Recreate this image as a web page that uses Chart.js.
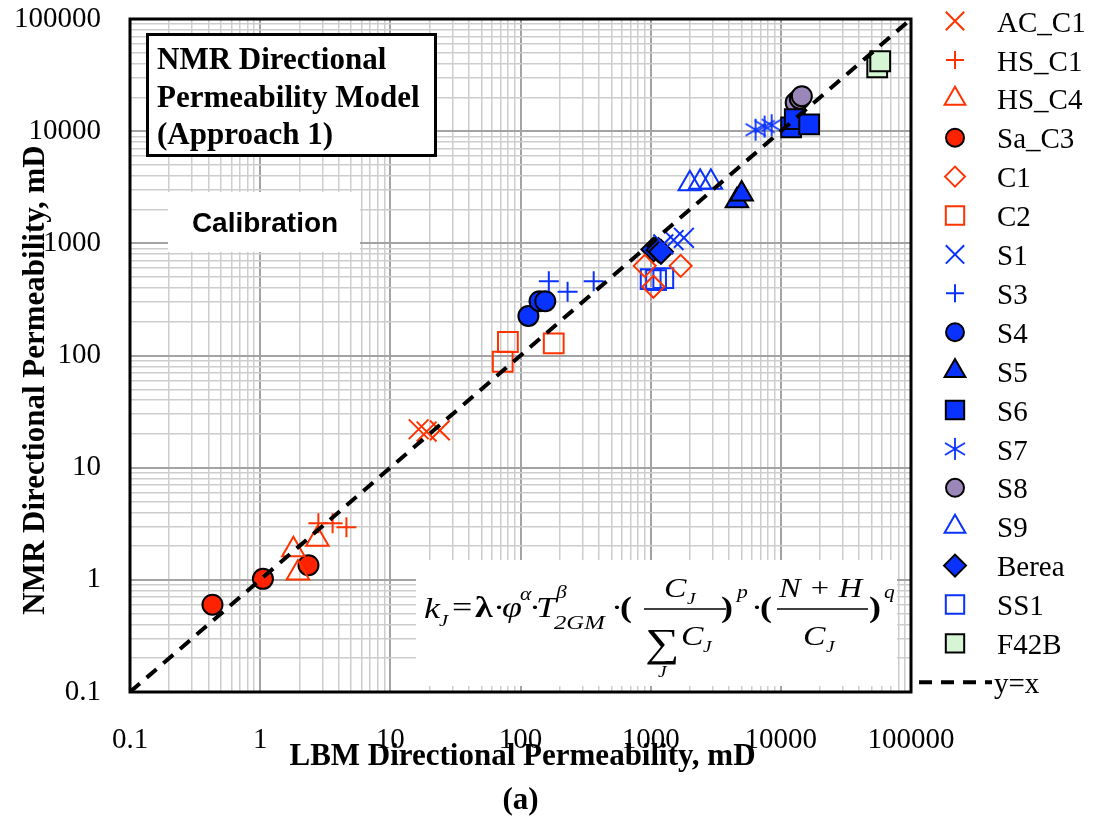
<!DOCTYPE html>
<html>
<head>
<meta charset="utf-8">
<script src="https://cdn.jsdelivr.net/npm/chart.js@4.4.1/dist/chart.umd.min.js"></script>
<style>
  html, body { margin: 0; padding: 0; background: #fff; }
</style>
</head>
<body>
<canvas id="chart" width="1096" height="819"></canvas>
<script>
// axis decades + labels
const decades = [0.1, 1, 10, 100, 1000, 10000, 100000];
const decadeLabels = ['0.1', '1', '10', '100', '1000', '10000', '100000'];

// LBM (x) vs NMR (y) directional permeability, mD
const acC1X = [16.5, 19, 24],        acC1Y = [22, 21, 21.5];
const hsC1X = [2.8, 3.6, 4.6],       hsC1Y = [3.2, 3.2, 2.95];
const hsC4X = [1.8, 1.95, 2.75],     hsC4Y = [1.85, 1.15, 2.3];
const saC3X = [0.43, 1.05, 2.35],    saC3Y = [0.6, 1.02, 1.35];
const c1X = [900, 1050, 1700],       c1Y = [630, 410, 630];
const c2X = [73, 80, 180],           c2Y = [88, 132, 128];
const s1X = [1250, 1500, 1800],      s1Y = [980, 1070, 1120];
const s3X = [165, 230, 365],         s3Y = [460, 370, 460];
const s4X = [115, 140, 155],         s4Y = [225, 305, 305];
const s5X = [4600, 5000],            s5Y = [2400, 2750];
const s6X = [12000, 12800, 16500],   s6Y = [10800, 12800, 11500];
const s7X = [6400, 7500, 8500],      s7Y = [10300, 11000, 11300];
const s8X = [13000, 14000, 14500],   s8Y = [18000, 19500, 20500];
const s9X = [2000, 2400, 2900],      s9Y = [3400, 3500, 3500];
const bereaX = [1050, 1150, 1200],   bereaY = [880, 870, 840];
const ss1X = [1000, 1100, 1250],     ss1Y = [480, 470, 490];
const f42bX = [55000, 58000],        f42bY = [37000, 42000];
const identityX = [0.1, 100000],     identityY = [0.1, 100000];

const RED = '#ff3300';
const BLUE = '#0a32ff';
const NONE = 'rgba(0,0,0,0)';

// 6-spoke asterisk for S7
const asterisk = document.createElement('canvas');
asterisk.width = 26; asterisk.height = 26;
(function () {
    const g = asterisk.getContext('2d');
    g.strokeStyle = BLUE; g.lineWidth = 1.8;
    g.beginPath();
    g.moveTo(13, 2); g.lineTo(13, 24);
    g.moveTo(3, 7); g.lineTo(23, 19);
    g.moveTo(3, 19); g.lineTo(23, 7);
    g.stroke();
})();

const pts = (xs, ys) => xs.map((x, i) => ({ x, y: ys[i] }));

function series(label, xs, ys, style, radius, fill, stroke) {
    return {
        label, data: pts(xs, ys),
        pointStyle: style, pointRadius: radius, pointHoverRadius: radius,
        pointBackgroundColor: fill, pointBorderColor: stroke, pointBorderWidth: 2,
        showLine: false,
    };
}

const datasets = [
    {
        label: 'y=x', data: pts(identityX, identityY), showLine: true,
        borderColor: '#000', borderWidth: 4, borderDash: [13, 9], pointRadius: 0, pointHoverRadius: 0,
    },
    series('AC_C1', acC1X, acC1Y, 'crossRot', 14, NONE, RED),
    series('HS_C1', hsC1X, hsC1Y, 'cross', 10, NONE, RED),
    series('HS_C4', hsC4X, hsC4Y, 'triangle', 13, NONE, RED),
    series('Sa_C3', saC3X, saC3Y, 'circle', 10, '#ff2200', '#000'),
    series('C1', c1X, c1Y, 'rectRot', 11, NONE, RED),
    series('C2', c2X, c2Y, 'rect', 14, NONE, RED),
    series('S1', s1X, s1Y, 'crossRot', 14, NONE, BLUE),
    series('S3', s3X, s3Y, 'cross', 10, NONE, BLUE),
    series('S4', s4X, s4Y, 'circle', 10, BLUE, '#000'),
    series('S5', s5X, s5Y, 'triangle', 13, BLUE, '#000'),
    series('S6', s6X, s6Y, 'rect', 14, BLUE, '#000'),
    series('S7', s7X, s7Y, asterisk, 12, NONE, BLUE),
    series('S8', s8X, s8Y, 'circle', 10, '#9a86b8', '#000'),
    series('S9', s9X, s9Y, 'triangle', 13, NONE, BLUE),
    series('Berea', bereaX, bereaY, 'rectRot', 12, BLUE, '#000'),
    series('SS1', ss1X, ss1Y, 'rect', 14, NONE, BLUE),
    series('F42B', f42bX, f42bY, 'rect', 14, '#d5f5d5', '#000'),
];

function logTicks(scale) {
    const out = [];
    for (let i = 0; i < decades.length - 1; i++) {
        for (let m = 1; m <= 9; m++) out.push({ value: decades[i] * m, major: m === 1 });
    }
    out.push({ value: decades[decades.length - 1], major: true });
    scale.ticks = out;
}
function tickLabel(v) {
    const i = decades.findIndex(d => Math.abs(v / d - 1) < 1e-6);
    return i < 0 ? '' : decadeLabels[i];
}
// keep the plot box where it is: no extra room for edge labels
function noEdgePadding(s) {
    s.paddingTop = 0; s.paddingBottom = 0; s.paddingLeft = 0; s.paddingRight = 0;
}
const gridColor = c => (c.tick && c.tick.major ? '#a3a3a3' : '#cdcdcd');
const SERIF = '"Liberation Serif", "Times New Roman", serif';

// boxes, equation, titles, legend
const decorations = {
    id: 'decorations',
    beforeDatasetsDraw(chart) {
        const ctx = chart.ctx;
        const { left, top, bottom } = chart.chartArea;
        ctx.save();
        ctx.fillStyle = '#fff';
        ctx.fillRect(left + 286, bottom - 132, 481, 126);   // equation panel
        ctx.fillRect(left + 38, top + 173, 192, 60);        // calibration
        ctx.fillRect(left + 16, top + 14, 290, 123);        // title box
        ctx.lineWidth = 3; ctx.strokeStyle = '#000';
        ctx.strokeRect(left + 17.5, top + 15.5, 288, 121);

        ctx.fillStyle = '#000';
        ctx.textAlign = 'left'; ctx.textBaseline = 'alphabetic';
        ctx.font = 'bold 31px ' + SERIF;
        ctx.fillText('NMR Directional', left + 27, top + 50);
        ctx.fillText('Permeability Model', left + 27, top + 88);
        ctx.fillText('(Approach 1)', left + 27, top + 125);

        ctx.textAlign = 'center';
        ctx.font = 'bold 28px "Liberation Sans", Arial, sans-serif';
        ctx.fillText('Calibration', left + 135, top + 213);

        // equation
        ctx.textAlign = 'left';
        const I = s => 'italic ' + s + 'px ' + SERIF;
        const R30 = '30px ' + SERIF;
        const piece = (str, x, y, font, sx = 1.2) => {
            ctx.save(); ctx.translate(x, y); ctx.scale(sx, 1);
            ctx.font = font; ctx.fillText(str, 0, 0); ctx.restore();
        };
        piece('k', 424, 618, I(30));
        piece('J', 439, 626, I(17));
        piece('=', 452, 617, R30);
        piece('λ', 475, 617, 'bold 30px ' + SERIF);
        piece('·', 493, 617, R30);
        piece('φ', 502, 617, I(30));
        piece('α', 520, 600, I(18));
        piece('·', 529, 617, R30);
        piece('T', 536, 617, I(30));
        piece('β', 556, 598, I(18));
        piece('2GM', 554, 629, I(19), 1.3);
        piece('·', 611, 617, R30);
        piece('(', 620, 617, 'bold 30px ' + SERIF);
        piece('C', 664, 597, I(28));
        piece('J', 687, 604, I(16));
        piece('∑', 645, 656, '40px ' + SERIF);
        piece('C', 681, 645, I(28));
        piece('J', 703, 652, I(16));
        piece('J', 658, 677, I(16));
        piece(')', 721, 617, 'bold 30px ' + SERIF);
        piece('p', 737, 598, I(18));
        piece('·', 751, 617, R30);
        piece('(', 760, 617, 'bold 30px ' + SERIF);
        piece('N + H', 779, 597, I(27), 1.2);
        piece('C', 803, 645, I(28));
        piece('J', 826, 652, I(16));
        piece(')', 869, 617, 'bold 30px ' + SERIF);
        piece('q', 884, 598, I(18));
        ctx.lineWidth = 1.5; ctx.strokeStyle = '#000';
        ctx.beginPath();
        ctx.moveTo(644, 609); ctx.lineTo(726, 609);
        ctx.moveTo(777, 609); ctx.lineTo(868, 609);
        ctx.stroke();
        ctx.restore();
    },
    afterDraw(chart) {
        const ctx = chart.ctx;
        const { left, top, right, bottom } = chart.chartArea;
        ctx.save();
        ctx.lineWidth = 3; ctx.strokeStyle = '#000';
        ctx.strokeRect(left, top, right - left, bottom - top);

        // axis titles
        ctx.fillStyle = '#000';
        ctx.font = 'bold 31px ' + SERIF;
        ctx.textAlign = 'center'; ctx.textBaseline = 'middle';
        ctx.fillText('LBM Directional Permeability, mD', (left + right) / 2 + 2, 757);
        ctx.fillText('(a)', (left + right) / 2, 801);
        ctx.save();
        ctx.translate(36, 380); ctx.rotate(-Math.PI / 2);
        ctx.fillText('NMR Directional Permeability, mD', 0, 0);
        ctx.restore();

        // legend
        const items = chart.data.datasets.slice(1).concat(chart.data.datasets[0]);
        ctx.font = '29px ' + SERIF;
        ctx.textAlign = 'left';
        items.forEach((ds, i) => {
            const y = 21 + i * 38.9;
            if (ds.showLine) {
                ctx.lineWidth = 4; ctx.strokeStyle = '#000'; ctx.setLineDash([13, 9]);
                ctx.beginPath(); ctx.moveTo(919, y); ctx.lineTo(992, y); ctx.stroke();
                ctx.setLineDash([]);
            } else {
                ctx.fillStyle = ds.pointBackgroundColor;
                ctx.strokeStyle = ds.pointBorderColor;
                ctx.lineWidth = ds.pointBorderWidth;
                Chart.helpers.drawPoint(ctx, { pointStyle: ds.pointStyle, radius: ds.pointRadius - 1, borderWidth: ds.pointBorderWidth, rotation: 0 }, 955, y);
            }
            ctx.fillStyle = '#000';
            ctx.fillText(ds.label, ds.showLine ? 994 : 997, y + 3);
        });
        ctx.restore();
    }
};

new Chart(document.getElementById('chart'), {
    type: 'scatter',
    data: { datasets },
    options: {
        responsive: false,
        devicePixelRatio: 1,
        animation: false,
        layout: { padding: { left: 0, right: 185, top: 19, bottom: 0 } },
        plugins: { legend: { display: false }, tooltip: { enabled: false } },
        scales: {
            x: {
                type: 'logarithmic', min: 0.1, max: 100000,
                afterBuildTicks: logTicks,
                afterFit: s => { s.height = 127; noEdgePadding(s); },
                grid: { color: gridColor, lineWidth: c => (c.tick && c.tick.major ? 2 : 1.5), drawTicks: false },
                border: { display: false },
                ticks: { callback: tickLabel, autoSkip: false, maxRotation: 0, padding: 31, color: '#000', font: { family: SERIF, size: 29 } },
            },
            y: {
                type: 'logarithmic', min: 0.1, max: 100000,
                afterBuildTicks: logTicks,
                afterFit: s => { s.width = 130; noEdgePadding(s); },
                grid: { color: gridColor, lineWidth: c => (c.tick && c.tick.major ? 2 : 1.5), drawTicks: false },
                border: { display: false },
                ticks: { callback: tickLabel, autoSkip: false, padding: 29, color: '#000', font: { family: SERIF, size: 29 } },
            },
        },
    },
    plugins: [decorations],
});
</script>
</body>
</html>
